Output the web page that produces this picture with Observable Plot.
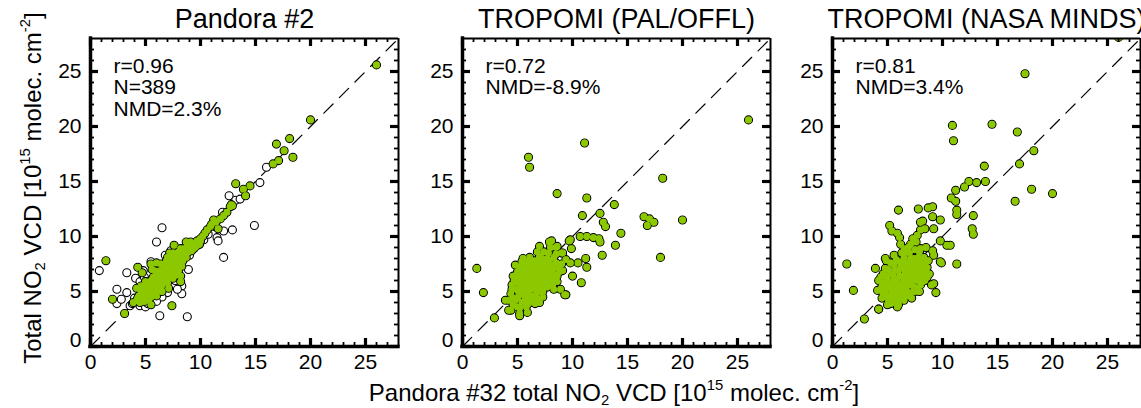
<!DOCTYPE html>
<html><head><meta charset="utf-8">
<script src="https://cdn.jsdelivr.net/npm/d3@7"></script>
<script src="https://cdn.jsdelivr.net/npm/@observablehq/plot@0.6"></script>
<style>
html,body{margin:0;padding:0;background:#fff;overflow:hidden;width:1141px;height:408px;}
#wrap{position:relative;width:1141px;height:408px;overflow:hidden;font-family:"Liberation Sans",Arial,Helvetica,sans-serif;color:#000;}
.panel{position:absolute;top:0;}
.panel svg{max-width:none !important;display:block;}
.lab{position:absolute;font-size:24px;white-space:nowrap;line-height:1;}
.lab sub,.lab sup{font-size:62%;line-height:0;}
.lab sub{vertical-align:-0.3em;}
.lab sup{vertical-align:0.75em;}
#ylab{left:33px;top:188px;transform:translate(-50%,-50%) rotate(-90deg);}
#xlab{left:614px;top:393px;transform:translate(-50%,-50%);}
</style></head>
<body><div id="wrap">
<div id="ylab" class="lab">Total NO<sub>2</sub> VCD [10<sup>15</sup> molec. cm<sup>-2</sup>]</div>
<div id="xlab" class="lab">Pandora #32 total NO<sub>2</sub> VCD [10<sup>15</sup> molec. cm<sup>-2</sup>]</div>
</div>
<script>
// ---- axis setup ----
const axisMax = 28;
const majorTicks = [0, 5, 10, 15, 20, 25];
const minorTicks = [1,2,3,4,6,7,8,9,11,12,13,14,16,17,18,19,21,22,23,24,26,27];
const oneToOne = [0, 28];

// ---- panel titles and statistics ----
const titles = ["Pandora #2", "TROPOMI (PAL/OFFL)", "TROPOMI (NASA MINDS)"];
const stats = ["r=0.96\nN=389\nNMD=2.3%", "r=0.72\nNMD=-8.9%", "r=0.81\nNMD=3.4%"];

// ---- Panel 1: Pandora #2 vs Pandora #32 (matched, green) ----
const pandora2Green = [
[26.0,25.6],[20.0,20.6],[18.1,18.9],[16.9,18.4],[17.6,17.8],[18.4,17.2],[17.1,16.9],[16.6,16.6],
[13.2,14.8],[14.5,14.6],[13.9,14.3],[14.1,13.7],[12.8,12.9],[12.7,12.7],[12.9,12.8],[12.4,12.2],
[12.1,11.9],[11.8,11.6],[11.2,11.5],[11.4,11.3],[11.0,11.1],[10.9,10.9],[11.6,10.7],[10.6,10.6],
[10.4,10.3],[10.0,9.6],[10.2,10.0],[9.1,9.5],[7.6,9.2],[1.4,7.8],[4.3,7.2],[4.7,6.7],[5.5,7.5],
[8.2,6.4],[8.2,5.9],[7.1,5.3],[4.2,5.3],[2.0,4.3],[3.1,3.0],[5.5,3.8],[7.4,3.7],[3.9,4.0],[9.4,8.9],[8.7,9.5],
[4.2,4.2],[4.4,4.6],[4.5,4.0],[4.6,5.0],[4.8,4.4],[4.9,5.4],[5.0,4.7],[5.1,5.1],[5.2,4.4],[5.3,5.7],
[5.4,4.9],[5.5,5.3],[5.6,6.1],[5.6,4.7],[5.7,5.6],[5.8,5.1],[5.9,6.4],[6.0,5.5],[6.1,6.0],[6.1,5.0],
[6.2,6.7],[6.3,5.7],[6.4,6.2],[6.4,5.3],[6.5,6.9],[6.6,6.4],[6.7,5.9],[6.8,7.2],[6.8,6.6],[6.9,6.1],
[7.0,7.5],[7.1,6.9],[7.1,6.3],[7.2,7.8],[7.3,7.1],[7.4,6.6],[7.5,8.0],[7.6,7.4],[7.6,6.9],[7.7,8.3],
[7.8,7.7],[7.9,7.2],[8.0,8.6],[8.1,8.0],[8.1,7.5],[8.2,8.9],[8.3,8.3],[8.4,7.8],[8.5,8.9],[8.6,8.5],
[8.7,8.1],[8.8,9.1],[8.9,8.6],[9.1,9.1],[9.2,8.7],[9.4,9.4],[9.6,9.1],[9.7,9.6],[9.9,9.3],[5.0,5.9],
[6.0,4.6],[6.9,7.8],[7.8,6.5],[5.3,4.2],[4.6,5.5],[5.8,6.9],[6.5,5.0],[7.2,8.5],[8.0,6.9],
[4.3,4.4],[4.7,4.7],[4.9,4.1],[5.0,5.2],[5.2,4.9],[5.3,5.3],[5.4,5.9],[5.5,4.5],[5.6,5.0],[5.7,6.3],
[5.8,5.8],[5.9,4.8],[6.0,6.2],[6.1,5.3],[6.2,5.9],[6.3,6.9],[6.3,6.4],[6.5,5.6],[6.6,6.7],[6.6,6.1],
[6.7,7.4],[6.9,6.8],[6.9,6.4],[7.0,5.8],[7.1,7.2],[7.2,6.7],[7.3,7.6],[7.4,7.3],[7.5,6.2],[7.5,7.7],
[7.7,7.1],[7.8,8.0],[7.9,7.4],[8.0,8.2],[8.1,7.8],[8.2,8.6],[8.3,8.0],[8.4,8.6],[8.5,8.2],[8.6,8.8],
[8.7,8.4],[8.9,8.9],[9.0,8.9],[9.2,9.2],[9.3,8.9],[9.5,9.3],[9.8,9.5],[10.0,9.8],[6.4,7.5],[7.0,8.1],
[7.5,8.5],[8.3,7.3],[5.6,7.0],[6.0,7.6]
];
// ---- Panel 1: unmatched points (open circles) ----
const pandora2Open = [
[0.8,6.9],[2.4,5.2],[2.4,3.9],[2.8,4.3],[3.3,4.9],[3.3,6.7],[3.6,3.7],[4.1,6.2],[4.5,5.9],[4.9,6.3],
[5.0,5.9],[4.5,3.7],[5.0,3.6],[6.0,9.5],[6.5,10.8],[6.3,2.8],[8.8,2.7],[8.9,7.0],[8.3,5.5],[8.3,4.8],
[8.0,5.9],[7.0,4.9],[6.5,4.5],[12.1,8.1],[11.5,9.9],[11.6,9.6],[12.1,10.5],[12.9,10.6],[14.9,11.0],
[10.3,9.7],[12.6,13.7],[13.2,13.3],[13.6,13.4],[15.4,14.9],[16.0,16.3],[12.0,12.2],[7.3,8.7],[5.5,7.7],
[9.9,9.3],[6.2,7.3],[7.7,6.0],[4.0,4.4],[3.8,3.9],[5.2,3.9],[6.0,4.1],[9.0,8.3],[10.7,10.2],[11.3,10.9],
[4.8,6.9],[7.9,5.2],[6.8,8.3]
];

// ---- Panel 2: TROPOMI PAL/OFFL ----
const palOffl = [
[26.0,20.6],[11.1,18.5],[6.0,17.2],[6.1,16.3],[18.2,15.3],[8.6,13.9],[11.3,13.5],[13.8,12.9],[12.5,12.1],
[10.9,11.9],[16.5,11.8],[17.0,11.6],[16.8,11.0],[17.4,11.3],[20.0,11.5],[12.8,11.3],[13.0,10.9],[14.4,10.3],
[13.9,9.2],[18.0,8.1],[12.7,8.3],[10.7,10.0],[11.3,10.0],[11.9,9.9],[12.4,9.8],[12.5,9.5],[11.2,8.0],
[11.3,7.2],[10.5,7.6],[10.8,5.8],[10.0,6.4],[9.8,7.6],[9.8,9.7],[1.3,7.1],[1.9,4.9],[2.9,2.6],[4.4,3.3],
[5.2,3.0],[5.9,3.1],[5.2,2.8],[9.4,4.7],[7.0,9.1],[8.1,9.6],[8.5,9.0],[9.0,8.5],[7.9,9.5],[8.0,9.0],
[8.6,9.1],[9.1,8.5],[9.7,9.6],[9.9,8.9],[9.4,7.9],[9.1,6.9],[9.0,7.5],[8.5,8.4],[8.9,5.2],[8.2,5.6],
[9.3,4.7],[3.9,4.2],[4.2,4.2],[4.2,3.3],
[4.4,4.8],[4.5,5.6],[4.6,6.4],[4.8,4.2],[4.9,5.2],[5.0,6.0],[5.0,6.8],[5.1,4.6],[5.2,5.5],[5.3,7.3],
[5.3,6.3],[5.4,4.0],[5.5,5.0],[5.5,5.9],[5.6,6.7],[5.7,7.7],[5.7,4.4],[5.8,5.4],[5.9,6.2],[6.0,7.0],
[6.0,4.8],[6.1,8.1],[6.1,5.7],[6.2,6.5],[6.3,4.2],[6.3,7.4],[6.4,5.2],[6.5,6.0],[6.5,6.9],[6.6,7.8],
[6.7,4.6],[6.7,5.5],[6.8,6.4],[6.9,7.2],[7.0,8.2],[7.0,5.0],[7.1,5.9],[7.2,6.7],[7.3,7.6],[7.3,4.5],
[7.4,5.4],[7.5,6.2],[7.6,7.0],[7.7,8.0],[7.8,5.7],[7.9,6.6],[8.0,7.4],[8.1,6.1],[8.2,7.0],[8.3,5.2],
[8.4,6.5],[8.5,7.6],[8.6,5.9],[6.8,8.6],[5.8,3.6],[6.6,3.9],[4.8,7.4],[5.5,8.0],[7.4,8.6],[8.8,6.8],
[4.6,3.8],[5.2,3.5],
[4.5,5.2],[4.6,4.4],[4.7,6.0],[4.7,5.8],[4.9,6.5],[5.0,4.4],[5.1,5.0],[5.2,6.4],[5.2,7.0],[5.4,5.4],
[5.4,6.0],[5.4,7.7],[5.6,4.7],[5.6,5.6],[5.7,6.4],[5.7,7.2],[5.9,4.2],[5.9,5.0],[5.9,7.5],[6.0,5.9],
[6.1,6.8],[6.2,4.5],[6.2,5.3],[6.3,6.1],[6.3,7.8],[6.4,7.1],[6.5,4.6],[6.5,5.6],[6.6,6.5],[6.7,7.5],
[6.8,5.1],[6.8,6.0],[6.9,6.9],[7.0,7.7],[7.1,5.4],[7.1,6.3],[7.2,7.2],[7.2,8.0],[7.3,5.0],[7.4,5.8],
[7.5,6.7],[7.5,7.4],[7.7,5.4],[7.7,6.3],[7.8,7.2],[7.9,7.8],[8.0,5.9],[8.1,6.8],[8.2,5.5],[8.3,6.3],
[8.4,7.2],[8.6,6.4],[8.7,7.3],[8.3,8.1],[7.8,8.5],[6.0,3.9],[6.9,4.3],[5.0,3.6],[7.0,4.0]
];

// ---- Panel 3: TROPOMI NASA MINDS ----
const nasaMinds = [
[26.0,28.1],[17.5,24.8],[10.9,20.1],[11.0,18.7],[14.5,20.2],[16.8,19.5],[18.3,17.8],[17.0,16.6],
[13.8,16.4],[13.9,15.0],[13.1,14.9],[12.4,15.0],[12.0,14.5],[11.2,14.2],[10.8,13.5],[11.2,13.2],
[11.3,12.4],[11.3,12.0],[12.8,11.9],[12.7,10.7],[12.8,10.2],[16.6,13.2],[18.1,14.3],[20.0,13.9],
[6.0,12.4],[7.8,12.5],[8.7,12.6],[9.1,12.7],[9.1,11.8],[9.8,11.5],[8.2,11.4],[8.0,10.6],[9.2,10.7],
[5.2,11.0],[5.4,10.5],[5.9,10.3],[6.1,9.9],[9.8,9.6],[10.4,9.2],[10.7,9.2],[11.3,7.5],[1.3,7.5],
[1.9,5.1],[2.9,2.5],[4.2,3.4],[9.4,4.9],[9.2,5.7],[9.9,7.6],[3.9,7.1],[4.8,8.0],[8.0,11.3],[8.4,10.7],
[7.7,10.1],[7.3,9.8],[9.2,8.3],[9.1,8.7],[8.5,9.0],[9.8,7.7],[8.8,6.6],[9.0,5.6],[8.6,7.2],
[4.2,6.0],[4.1,5.1],[4.5,4.4],[5.0,3.8],[5.9,3.6],[6.5,4.2],[6.8,4.6],[4.9,7.8],[5.6,8.3],[6.5,8.9],
[7.1,9.3],[4.5,5.5],[4.6,6.6],[4.9,4.6],[5.0,5.3],[5.0,6.1],[5.1,7.0],[5.3,4.2],[5.4,4.9],[5.5,5.7],
[5.5,6.5],[5.6,7.4],[5.8,4.4],[5.9,5.2],[5.9,6.0],[6.0,6.9],[6.1,7.7],[6.2,4.8],[6.3,5.6],[6.4,6.4],
[6.4,7.2],[6.5,8.1],[6.7,5.2],[6.8,6.0],[6.8,6.8],[6.9,7.6],[7.0,8.5],[7.1,5.6],[7.2,6.4],[7.3,7.2],
[7.4,8.0],[7.5,5.0],[7.6,6.0],[7.7,6.8],[7.8,7.6],[7.9,8.6],[8.0,5.6],[8.1,6.4],[8.2,7.2],[8.3,8.1],
[8.4,6.0],[8.5,6.9],[7.2,4.4],[5.3,3.9],[4.2,3.4],[7.7,5.3],[6.2,9.3],[7.6,9.5],
[4.4,5.2],[4.4,6.3],[4.6,4.8],[4.7,5.8],[4.8,7.1],[4.8,5.0],[4.9,6.4],[5.1,4.2],[5.2,5.7],[5.2,6.6],
[5.3,7.6],[5.4,4.5],[5.4,5.3],[5.6,6.1],[5.7,6.9],[5.7,4.0],[5.7,4.8],[5.8,7.9],[6.0,5.6],[6.0,4.2],
[6.1,6.4],[6.2,7.2],[6.3,8.5],[6.4,5.2],[6.4,4.5],[6.5,6.0],[6.6,6.8],[6.6,7.6],[6.7,8.6],[6.7,4.8],
[6.9,5.6],[6.9,6.4],[7.0,7.2],[7.1,8.0],[7.1,4.9],[7.3,6.0],[7.3,6.8],[7.4,7.6],[7.4,5.4],[7.5,8.8],
[7.6,6.4],[7.7,7.2],[7.8,8.1],[7.9,6.0],[7.9,5.0],[8.0,6.8],[8.1,7.7],[8.2,5.9],[8.3,6.6],[8.4,7.5],
[8.6,6.3],[8.7,7.8],[8.0,8.9],[6.9,9.0],[5.6,4.3],[6.0,3.8]
];

const green = "#8cc800";
const panelLefts = [30, 402, 772];   // div offsets (layout only)
const M = {left: 60, right: 10, top: 38, bottom: 62};
const side = 308;
const majorLen = 8, minorLen = 4;   // tick lengths in px

function inwardTicks(ticks, len, width) {
  const far = side - len;
  return [
    Plot.ruleX(ticks, {x: d => d, insetTop: far, stroke: "black", strokeWidth: width}),     // bottom edge
    Plot.ruleX(ticks, {x: d => d, insetBottom: far, stroke: "black", strokeWidth: width}),  // top edge
    Plot.ruleY(ticks, {y: d => d, insetRight: far, stroke: "black", strokeWidth: width}),   // left edge
    Plot.ruleY(ticks, {y: d => d, insetLeft: far, stroke: "black", strokeWidth: width})     // right edge
  ];
}

function greenDots(pts) {
  // outline layer, then an un-stroked fill layer so overlapping points merge into a solid blob
  return [
    Plot.dot(pts, {x: d => d[0], y: d => d[1], r: 4, fill: green, stroke: "black", strokeWidth: 1.1, clip: true}),
    Plot.dot(pts, {x: d => d[0], y: d => d[1], r: 3.4, fill: green, stroke: "none", clip: true})
  ];
}

function makePanel(i, greenPts, openPts) {
  const marks = [
    Plot.line(oneToOne, {x: d => d, y: d => d, stroke: "black", strokeWidth: 1.2, strokeDasharray: "13,9"}),
  ];
  if (openPts) marks.push(Plot.dot(openPts, {x: d => d[0], y: d => d[1], r: 4, fill: "white", stroke: "black", strokeWidth: 1.1, clip: true}));
  marks.push(...greenDots(greenPts));
  marks.push(
    ...inwardTicks(majorTicks, majorLen, 3.2),
    ...inwardTicks(minorTicks, minorLen, 1.8),
    // frame
    Plot.ruleX([axisMax], {stroke: "black", strokeWidth: 2}),
    Plot.ruleY([axisMax], {stroke: "black", strokeWidth: 2}),
    Plot.ruleX([0], {stroke: "black", strokeWidth: 3.5, strokeLinecap: "square"}),
    Plot.ruleY([0], {stroke: "black", strokeWidth: 3.5, strokeLinecap: "square"}),
    // tick labels
    Plot.axisX({anchor: "bottom", ticks: majorTicks, tickSize: 0, tickPadding: 8, fontSize: 21}),
    Plot.axisY({anchor: "left", ticks: majorTicks.slice(1), tickSize: 0, tickPadding: 9, fontSize: 21}),
    Plot.axisY({anchor: "left", ticks: [0], tickSize: 0, tickPadding: 9, fontSize: 21, dy: -6}),
    // title & stats
    Plot.text([titles[i]], {frameAnchor: "top", lineAnchor: "bottom", dy: -11, fontSize: 27}),
    Plot.text([stats[i]], {frameAnchor: "top-left", lineAnchor: "top", dx: 23, dy: 19, fontSize: 21, lineHeight: 1.03})
  );
  const svg = Plot.plot({
    width: M.left + side + M.right,
    height: 408,
    marginLeft: M.left, marginRight: M.right, marginTop: M.top, marginBottom: M.bottom,
    style: {background: "transparent", overflow: "visible", fontFamily: "'Liberation Sans', Arial, Helvetica, sans-serif", color: "black"},
    x: {domain: [0, axisMax], axis: null},
    y: {domain: [0, axisMax], axis: null},
    marks
  });
  const div = document.createElement("div");
  div.className = "panel";
  div.style.left = panelLefts[i] + "px";
  div.appendChild(svg);
  document.getElementById("wrap").appendChild(div);
}

makePanel(0, pandora2Green, pandora2Open);
makePanel(1, palOffl, null);
makePanel(2, nasaMinds, null);
</script>
</body></html>
